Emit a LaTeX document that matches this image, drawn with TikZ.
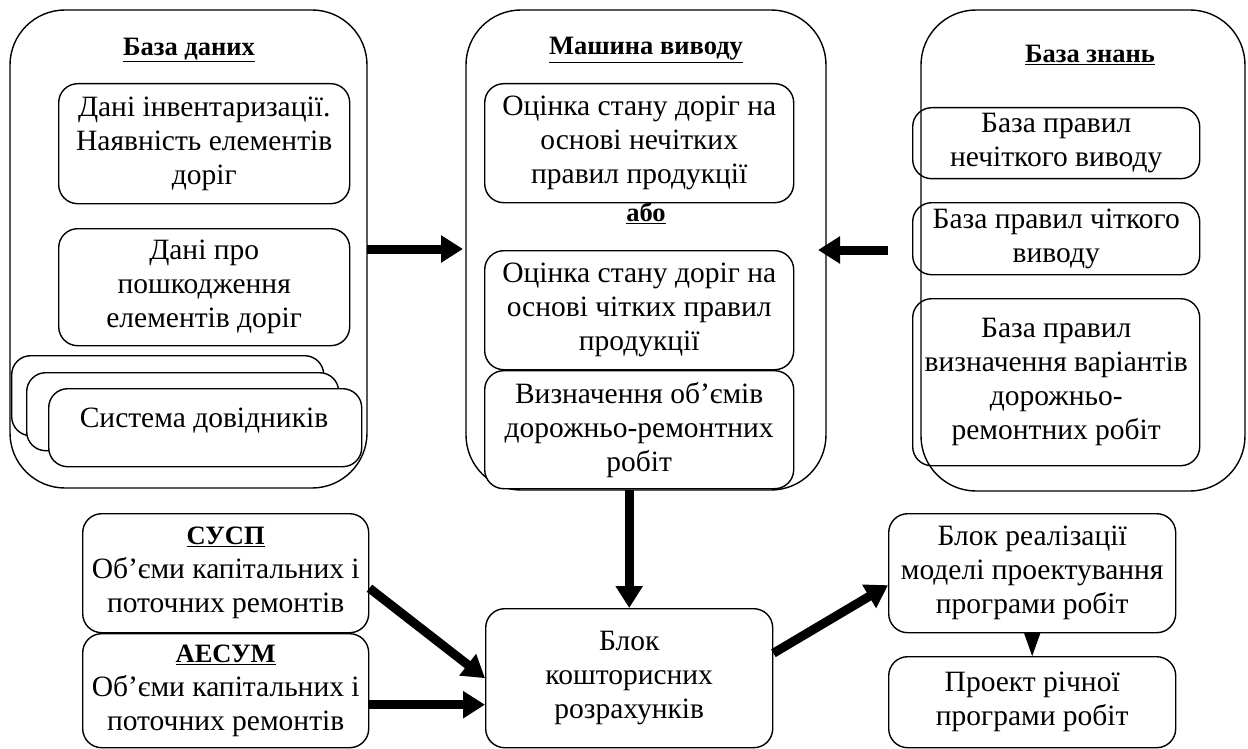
\documentclass[tikz,border=0pt]{standalone}
\usepackage{fontspec}
\setmainfont{Liberation Serif}
\usetikzlibrary{arrows.meta}
\newcommand\bodyf{\fontsize{29.5}{34}\selectfont}
\newcommand\ttlf{\fontsize{26.5}{30}\selectfont\bfseries}
\begin{document}
\begin{tikzpicture}[x=1pt,y=-1pt,
  cont/.style={draw, line width=1.4pt, rounded corners=55pt},
  rbox/.style={draw, line width=1.4pt, rounded corners=19pt, align=center, inner sep=0pt, anchor=north west, font=\bodyf},
  ttl/.style={font=\ttlf, inner sep=0pt, align=center},
  txt/.style={font=\bodyf, inner sep=0pt, align=center},
  big/.style={line width=9pt, -{Triangle[length=22pt,width=26pt]}},
]
\useasboundingbox (0,0) rectangle (1248,749);

% ---- containers
\draw[cont] (10,10) rectangle (367,488);
\draw[cont] (466,10) rectangle (826,490);
\draw[cont] (921,10) rectangle (1245,491);
\coordinate (db) at (367,249);
\coordinate (midw) at (466,250);
\coordinate (mide) at (826,250);
\coordinate (mids) at (628,490);
\coordinate (kbw) at (921,250);

\node[ttl] (dbt) at (189,50) {\underline{База даних}};
\node[ttl] (midt) at (646,50) {\underline{Машина виводу}};
\node[ttl] (kbt) at (1090,55) {\underline{База знань}};

% ---- database
\node[rbox, minimum width=291pt, minimum height=120pt] (d1) at (58,83)
  {Дані інвентаризації.\\Наявність елементів\\доріг};
\node[rbox, minimum width=291pt, minimum height=117pt] (d2) at (58,228)
  {Дані про\\пошкодження\\елементів доріг};
\node[rbox, fill=white, minimum width=312pt, minimum height=80pt] (s1) at (11,355) {};
\node[rbox, fill=white, minimum width=312pt, minimum height=78pt] (s2) at (26,372) {};
\node[rbox, fill=white, minimum width=313pt, minimum height=78pt] (s3) at (48,388) {};
\node[txt] (s3t) at (204,421) {Система довідників};

% ---- inference machine
\node[rbox, minimum width=309pt, minimum height=119pt] (m1) at (484,83)
  {Оцінка стану доріг на\\основі нечітких\\правил продукції};
\node[ttl] (or) at (646,213) {\underline{або}};
\node[rbox, minimum width=309pt, minimum height=119pt] (m2) at (484,250)
  {Оцінка стану доріг на\\основі чітких правил\\продукції};
\node[rbox, fill=white, minimum width=309pt, minimum height=118pt] (m3) at (484,370)
  {Визначення об’ємів\\дорожньо-ремонтних\\робіт};

% ---- knowledge base
\node[rbox, minimum width=287pt, minimum height=71pt] (k1) at (912,107)
  {База правил\\нечіткого виводу};
\node[rbox, minimum width=287pt, minimum height=72pt] (k2) at (912,202)
  {База правил чіткого\\виводу};
\node[rbox, minimum width=287pt, minimum height=167pt] (k3) at (912,298)
  {База правил\\визначення варіантів\\дорожньо-\\ремонтних робіт};

% ---- lower row
\node[rbox, minimum width=286pt, minimum height=119pt] (sus) at (82,513)
  {{\ttlf\underline{СУСП}}\\Об’єми капітальних і\\поточних ремонтів};
\node[rbox, minimum width=286pt, minimum height=114pt] (aes) at (82,633)
  {{\ttlf\underline{АЕСУМ}}\\Об’єми капітальних і\\поточних ремонтів};
\node[rbox, minimum width=287pt, minimum height=139pt] (bk) at (485,608)
  {Блок\\кошторисних\\розрахунків};
\node[rbox, minimum width=287pt, minimum height=119pt] (real) at (888,513)
  {Блок реалізації\\моделі проектування\\програми робіт};
\node[rbox, minimum width=287pt, minimum height=91pt] (proj) at (888,656)
  {Проект річної\\програми робіт};

% ---- connectors
\draw[big] (db) -- ([xshift=-3pt]db -| midw);
\draw[big] ([xshift=-33pt]kbw) -- ([xshift=-8pt]mide);
\draw[big] (bk.north |- mids) -- (bk.north);
\draw[big] ([yshift=-15pt]sus.east) -- (bk.west);
\draw[big] ([yshift=-14pt]aes.east) -- ([yshift=-14pt]aes.east -| bk.west);
\draw[big] ([yshift=25pt]bk.east) -- ([yshift=-12pt]real.west);
\draw[line width=0.5pt, -{Triangle[length=24pt,width=17pt]}] (real.south) -- (proj.north);
\end{tikzpicture}
\end{document}
